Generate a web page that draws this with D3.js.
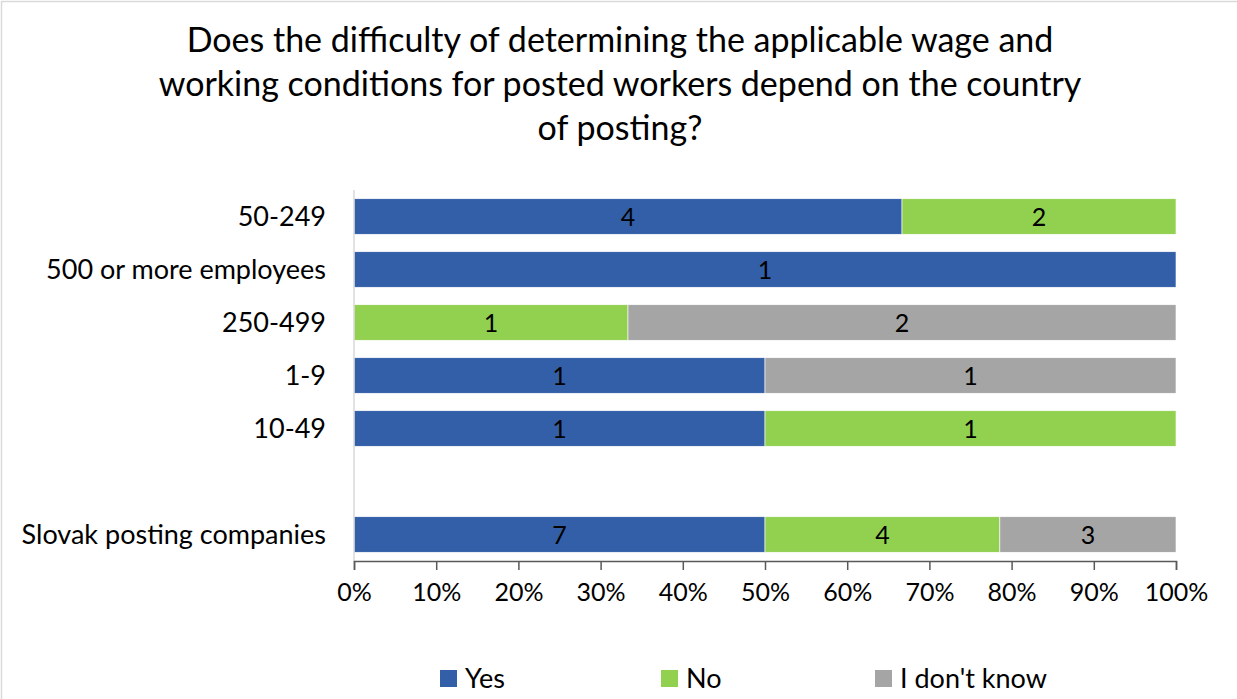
<!DOCTYPE html>
<html>
<head>
<meta charset="utf-8">
<script src="https://cdn.jsdelivr.net/npm/d3@7"></script>
<style>
  html, body { margin: 0; padding: 0; background: #fff; }
  svg { display: block; font-family: Lato, "Open Sans", sans-serif; }
</style>
</head>
<body>
<svg id="chart" width="1237" height="699"></svg>
<script>
const titleLines = [
  "Does the difficulty of determining the applicable wage and",
  "working conditions for posted workers depend on the country",
  "of posting?"
];
const categories = ["50-249", "500 or more employees", "250-499", "1-9", "10-49", "", "Slovak posting companies"];
const seriesNames = ["Yes", "No", "I don't know"];
const yesValues = [4, 1, 0, 1, 1, null, 7];
const noValues = [2, 0, 1, 0, 1, null, 4];
const dontKnowValues = [0, 0, 2, 1, 0, null, 3];
const tickValues = [0, 0.1, 0.2, 0.3, 0.4, 0.5, 0.6, 0.7, 0.8, 0.9, 1.0];
const colors = ["#335FA8", "#92D050", "#A5A5A5"];

const svg = d3.select("#chart");
const W = 1237, H = 699;

// chart border
svg.append("rect").attr("x", 1.5).attr("y", 1.5).attr("width", W + 10).attr("height", H + 10)
  .attr("fill", "#fff").attr("stroke", "#d9d9d9").attr("stroke-width", 1.5);

// title
svg.append("g").selectAll("text").data(titleLines).join("text")
  .attr("x", 620).attr("y", (d, i) => 52 + i * 44)
  .attr("text-anchor", "middle").attr("font-size", 34).attr("fill", "#000")
  .text(d => d);

const x = d3.scaleLinear().domain([0, 1]).range([354, 1176]);
const y = d3.scaleBand().domain(categories).range([190, 561]).paddingInner(0.33).paddingOuter(0.165);

const rows = categories.map((c, i) => {
  const vals = [yesValues[i], noValues[i], dontKnowValues[i]];
  return { cat: c, vals };
}).filter(r => r.vals[0] !== null);

const segs = [];
rows.forEach(r => {
  const total = d3.sum(r.vals);
  let acc = 0;
  r.vals.forEach((v, k) => {
    if (v > 0) {
      segs.push({ cat: r.cat, k, v, x0: acc / total, x1: (acc + v) / total });
    }
    acc += v;
  });
});

// bars
svg.append("g").selectAll("rect").data(segs).join("rect")
  .attr("x", d => x(d.x0)).attr("width", d => x(d.x1) - x(d.x0))
  .attr("y", d => y(d.cat)).attr("height", y.bandwidth())
  .attr("fill", d => colors[d.k])
  .attr("stroke", "#fff").attr("stroke-width", 0.6);

// value labels
svg.append("g").selectAll("text").data(segs).join("text")
  .attr("x", d => x((d.x0 + d.x1) / 2)).attr("y", d => y(d.cat) + y.bandwidth() / 2)
  .attr("dy", "0.36em").attr("text-anchor", "middle").attr("font-size", 25).attr("fill", "#000")
  .text(d => d.v);

// vertical axis line
svg.append("line").attr("x1", x(0)).attr("x2", x(0)).attr("y1", 190).attr("y2", 561)
  .attr("stroke", "#d9d9d9").attr("stroke-width", 1.5);

// category labels
svg.append("g").selectAll("text").data(categories.filter(c => c !== "")).join("text")
  .attr("x", 326).attr("y", d => y(d) + y.bandwidth() / 2).attr("dy", "0.36em")
  .attr("text-anchor", "end").attr("font-size", 27).attr("fill", "#000")
  .text(d => d);

// bottom axis
const xAxis = d3.axisBottom(x).tickValues(tickValues).tickFormat(d3.format(".0%")).tickSize(9).tickPadding(13);
const gx = svg.append("g").attr("transform", "translate(0,561)").call(xAxis);
gx.select(".domain").attr("stroke", "#595959").attr("stroke-width", 1.5);
gx.selectAll(".tick line").attr("stroke", "#595959").attr("stroke-width", 1.5);
gx.selectAll(".tick text").attr("font-size", 25).attr("fill", "#000").attr("font-family", "Lato, sans-serif");

// legend
const legendX = [440, 661, 875];
const lg = svg.append("g").selectAll("g").data(seriesNames).join("g")
  .attr("transform", (d, i) => `translate(${legendX[i]},670)`);
lg.append("rect").attr("width", 17).attr("height", 17).attr("fill", (d, i) => colors[i]);
lg.append("text").attr("x", 25).attr("y", 8.5).attr("dy", "0.36em").attr("font-size", 27).attr("fill", "#000").text(d => d);
</script>
</body>
</html>
